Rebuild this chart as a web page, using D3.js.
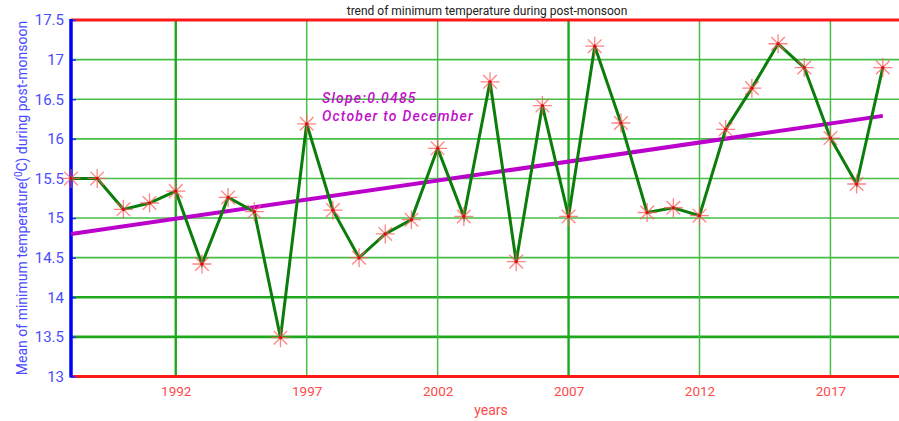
<!DOCTYPE html>
<html>
<head>
<meta charset="utf-8">
<script src="https://cdn.jsdelivr.net/npm/d3@7"></script>
<style>
  html, body { margin: 0; padding: 0; background: #fff; overflow: hidden; }
  svg { display: block; font-family: Roboto, "Liberation Sans", sans-serif; }
</style>
</head>
<body>
<svg id="chart" width="899" height="421"></svg>
<script>
const years = [1988,1989,1990,1991,1992,1993,1994,1995,1996,1997,1998,1999,2000,2001,2002,2003,2004,2005,2006,2007,2008,2009,2010,2011,2012,2013,2014,2015,2016,2017,2018,2019];
const minTemp = [15.5,15.5,15.11,15.19,15.34,14.42,15.26,15.08,13.49,16.19,15.1,14.5,14.8,14.98,15.88,15.02,16.72,14.45,16.42,15.02,17.17,16.2,15.07,15.13,15.03,16.12,16.64,17.2,16.9,16.01,15.43,16.9];
const trendYears = [1988, 2019];
const trendValues = [14.8, 16.29];
const xTickYears = [1992, 1997, 2002, 2007, 2012, 2017];
const yTickValues = [13, 13.5, 14, 14.5, 15, 15.5, 16, 16.5, 17, 17.5];
const titleText = "trend of minimum temperature during post-monsoon";
const xLabelText = "years";
const annotationLines = ["Slope:0.0485", "October to December"];

(function () {
const svg = d3.select("#chart");
const pL = 71, pT = 20, pB = 376.5;
const x = d3.scaleLinear().domain([1988, 2020]).range([pL, 909]);
const y = d3.scaleLinear().domain([13, 17.5]).range([pB, pT]);

// horizontal grid
svg.append("g").selectAll("line").data(yTickValues.filter(v => v > 13 && v < 17.5)).join("line")
  .attr("x1", pL).attr("x2", 899)
  .attr("y1", d => y(d)).attr("y2", d => y(d))
  .attr("stroke", d => (d === 14 || d === 13.5) ? "#1ea81e" : "#46be46")
  .attr("stroke-width", d => (d === 14 || d === 13.5) ? 2.6 : 1.6);

// vertical grid
svg.append("g").selectAll("line").data(xTickYears).join("line")
  .attr("x1", d => x(d)).attr("x2", d => x(d))
  .attr("y1", pT).attr("y2", pB)
  .attr("stroke", d => (d === 1992 || d === 2007) ? "#1ea81e" : "#46be46")
  .attr("stroke-width", d => (d === 1992 || d === 2007) ? 2.4 : 1.5);

// top / bottom red frame
svg.append("line").attr("x1", pL).attr("x2", 899).attr("y1", pT).attr("y2", pT)
  .attr("stroke", "#ff1a1a").attr("stroke-width", 3);
svg.append("line").attr("x1", pL).attr("x2", 899).attr("y1", pB).attr("y2", pB)
  .attr("stroke", "#ff1a1a").attr("stroke-width", 3);

// x tick labels via axis
const xAxis = svg.append("g").attr("transform", `translate(0,${pB})`)
  .call(d3.axisBottom(x).tickValues(xTickYears).tickFormat(d3.format("d")).tickSize(0).tickPadding(10));
xAxis.select(".domain").remove();
xAxis.selectAll("text").attr("fill", "#ff4a4a").attr("font-size", 13.5)
  .attr("font-family", "Roboto, 'Liberation Sans', sans-serif");

// y axis
const yAxis = svg.append("g").attr("transform", `translate(${pL},0)`)
  .call(d3.axisLeft(y).tickValues(yTickValues).tickFormat(d => String(d)).tickSize(-5).tickPadding(7));
yAxis.select(".domain").remove();
yAxis.selectAll(".tick line").attr("stroke", "#2a2aff").attr("stroke-width", 1.5);
yAxis.selectAll("text").attr("fill", "#4b4bff").attr("font-size", 15)
  .attr("font-family", "Roboto, 'Liberation Sans', sans-serif");
svg.append("line").attr("x1", pL).attr("x2", pL).attr("y1", pT - 1).attr("y2", pB + 1)
  .attr("stroke", "#0000ff").attr("stroke-width", 3.5);

// trend line
svg.append("path")
  .datum(trendYears.map((d, i) => [d, trendValues[i]]))
  .attr("d", d3.line().x(d => x(d[0])).y(d => y(d[1])))
  .attr("stroke", "#bb00cc").attr("stroke-width", 4).attr("fill", "none");

// data line
const pts = years.map((d, i) => [d, minTemp[i]]);
svg.append("path").datum(pts)
  .attr("d", d3.line().x(d => x(d[0])).y(d => y(d[1])))
  .attr("stroke", "#0b7d0b").attr("stroke-width", 3).attr("fill", "none");

// asterisk markers
const r = 9.5, rd = 6.8;
const mk = svg.append("g").selectAll("g").data(pts).join("g")
  .attr("transform", d => `translate(${x(d[0])},${y(d[1])})`);
mk.append("path")
  .attr("d", `M${-r},0H${r}M0,${-r}V${r}M${-rd},${-rd}L${rd},${rd}M${-rd},${rd}L${rd},${-rd}`)
  .attr("stroke", "#ff5a5a").attr("stroke-width", 1.3).attr("stroke-opacity", 0.75).attr("fill", "none");
mk.append("circle").attr("r", 1.6).attr("fill", "#d01010");

// annotation
const ann = svg.append("g").attr("fill", "#c010c8").attr("font-style", "italic")
  .attr("font-weight", 500).attr("font-size", 14).attr("letter-spacing", 1.2);
ann.selectAll("text").data(annotationLines).join("text")
  .attr("x", 322).attr("y", (d, i) => 103 + i * 18).text(d => d);

// title
svg.append("text").attr("x", 487).attr("y", 15).attr("text-anchor", "middle")
  .attr("font-size", 12).attr("fill", "#222").text(titleText);

// x label
svg.append("text").attr("x", 491).attr("y", 415).attr("text-anchor", "middle")
  .attr("font-size", 14).attr("fill", "#ff4a4a").text(xLabelText);

// y label
const yl = svg.append("text").attr("transform", "translate(27,198) rotate(-90)")
  .attr("text-anchor", "middle").attr("font-size", 14).attr("fill", "#4b4bff");
yl.append("tspan").text("Mean of minimum temperature(");
yl.append("tspan").attr("dy", -5).attr("font-size", 10).text("0");
yl.append("tspan").attr("dy", 5).text("C) during post-monsoon");
})();
</script>
</body>
</html>
